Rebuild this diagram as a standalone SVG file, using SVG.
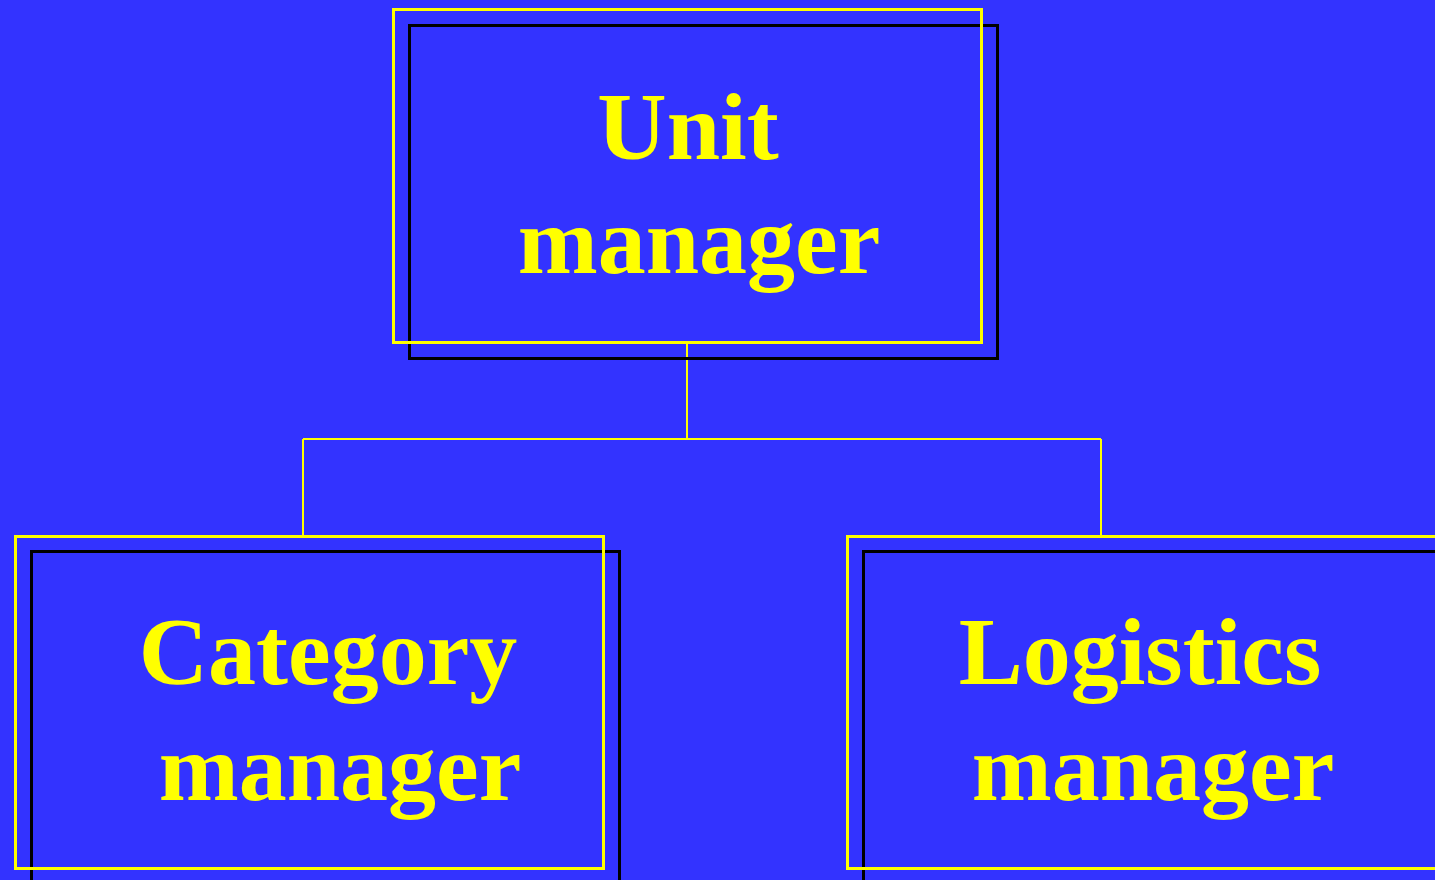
<svg xmlns="http://www.w3.org/2000/svg" width="1435" height="880" viewBox="0 0 1435 880">
<style>
.shadow{fill:none;stroke:#000;stroke-width:3}
.frame{fill:none;stroke:#FFFF00;stroke-width:3}
.lbl{font-family:"Liberation Serif","Times New Roman",serif;font-weight:bold;font-size:96px;fill:#FFFF00;text-anchor:middle}
.conn{fill:none;stroke:#FFFF00;stroke-width:2}
</style>
<rect x="0" y="0" width="1435" height="880" fill="#3333FF"/>
<g id="connectors">
<path class="conn" d="M687 343 V439 M303 439 H1101 M303 439 V536 M1101 439 V536"/>
</g>
<g id="unit-manager">
<rect class="shadow" x="409.5" y="25.5" width="588" height="333"/>
<rect class="frame" x="393.5" y="9.5" width="588" height="333"/>
<text class="lbl" x="688" y="159">Unit</text>
<text class="lbl" x="699" y="273">manager</text>
</g>
<g id="category-manager">
<rect class="shadow" x="31.5" y="551.5" width="588" height="340"/>
<rect class="frame" x="15.5" y="536.5" width="588" height="332"/>
<text class="lbl" x="328" y="684">Category</text>
<text class="lbl" x="340" y="800">manager</text>
</g>
<g id="logistics-manager">
<rect class="shadow" x="863.5" y="551.5" width="600" height="340"/>
<rect class="frame" x="847.5" y="536.5" width="600" height="332"/>
<text class="lbl" x="1140" y="684">Logistics</text>
<text class="lbl" x="1153" y="800">manager</text>
</g>
</svg>
